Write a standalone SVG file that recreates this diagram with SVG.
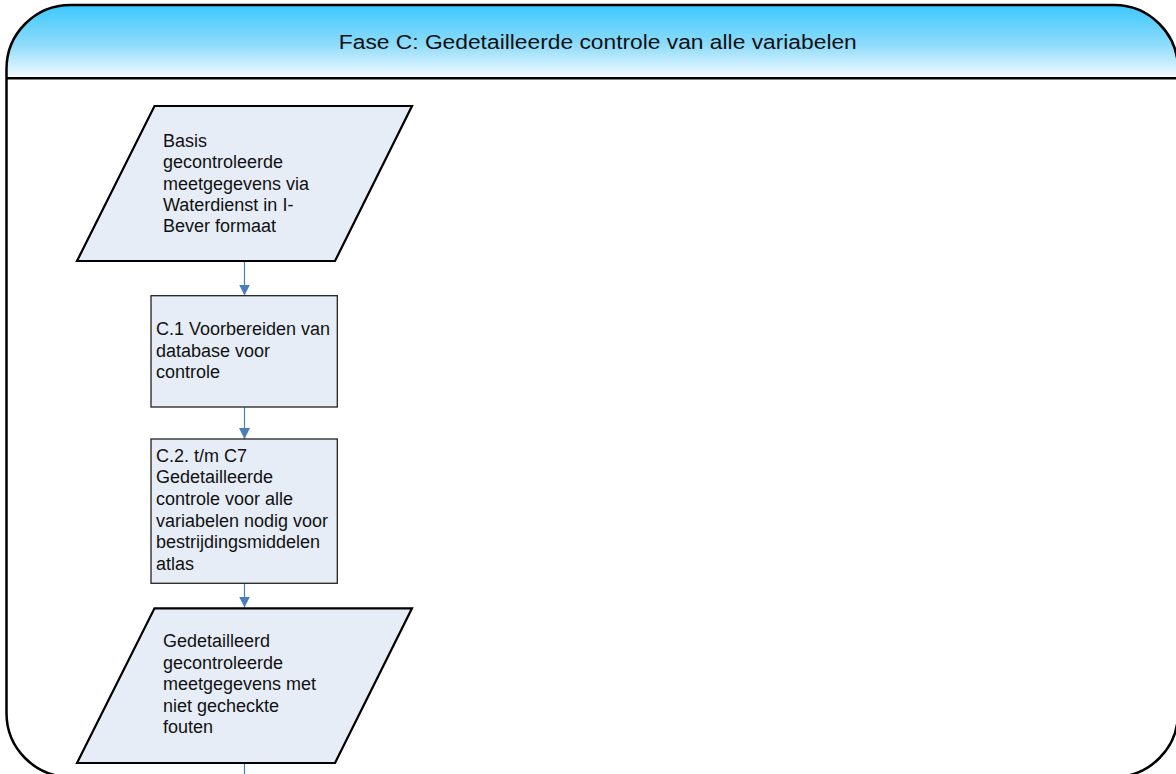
<svg xmlns="http://www.w3.org/2000/svg" width="1176" height="774" viewBox="0 0 1176 774">
  <defs>
    <linearGradient id="hdr" x1="0" y1="0" x2="0" y2="1">
      <stop offset="0" stop-color="#3cc8fd"/>
      <stop offset="0.55" stop-color="#8fdcfb"/>
      <stop offset="1" stop-color="#f6fcff"/>
    </linearGradient>
    <marker id="arr" markerUnits="userSpaceOnUse" markerWidth="12" markerHeight="12" viewBox="0 0 12 12" refX="11" refY="6" orient="auto">
      <path d="M0,0.5 L11,6 L0,11.5 Z" fill="#4a7ebb"/>
    </marker>
    <style>
      .lbl { font-family: "Liberation Sans", Arial, sans-serif; font-size: 18px; fill: #111; }
      .hdr { font-family: "Liberation Sans", Arial, sans-serif; font-size: 20px; fill: #111; }
      .para { fill: #e7edf7; stroke: #000; stroke-width: 2.2; stroke-linejoin: miter; }
      .proc { fill: #e7edf7; stroke: #222; stroke-width: 1.3; }
      .conn { stroke: #4a7ebb; stroke-width: 1.2; fill: none; }
    </style>
  </defs>

  <rect width="1176" height="774" fill="#ffffff"/>

  <g id="frame">
    <path d="M6.5,78 L6.5,69 A64,64 0 0 1 70.5,5 L1114,5 A64,64 0 0 1 1178,69 L1178,78 Z" fill="url(#hdr)"/>
    <rect x="6.5" y="5" width="1171.5" height="772" rx="64" ry="64" fill="none" stroke="#000" stroke-width="2.5"/>
    <line x1="6.5" y1="78.3" x2="1178" y2="78.3" stroke="#000" stroke-width="2.5"/>
    <text class="hdr" x="597.8" y="49.3" text-anchor="middle" textLength="518" lengthAdjust="spacingAndGlyphs">Fase C: Gedetailleerde controle van alle variabelen</text>
  </g>

  <g id="connectors">
    <line class="conn" x1="244.5" y1="262" x2="244.5" y2="295.5" marker-end="url(#arr)"/>
    <line class="conn" x1="244.5" y1="407" x2="244.5" y2="439" marker-end="url(#arr)"/>
    <line class="conn" x1="244.5" y1="583.5" x2="244.5" y2="607.5" marker-end="url(#arr)"/>
    <line class="conn" x1="244.5" y1="764" x2="244.5" y2="776"/>
  </g>

  <g id="node-basis">
    <polygon class="para" points="154.5,106 412,106 335,261 77,261"/>
    <text class="lbl">
      <tspan x="163" y="147">Basis</tspan>
      <tspan x="163" y="168.3">gecontroleerde</tspan>
      <tspan x="163" y="189.7">meetgegevens via</tspan>
      <tspan x="163" y="211">Waterdienst in I-</tspan>
      <tspan x="163" y="232.3">Bever formaat</tspan>
    </text>
  </g>

  <g id="node-c1">
    <rect class="proc" x="151" y="295.7" width="186.3" height="111.3"/>
    <text class="lbl">
      <tspan x="156" y="335">C.1 Voorbereiden van</tspan>
      <tspan x="156" y="356.5">database voor</tspan>
      <tspan x="156" y="378">controle</tspan>
    </text>
  </g>

  <g id="node-c2">
    <rect class="proc" x="151" y="439" width="186.3" height="144.3"/>
    <text class="lbl">
      <tspan x="156" y="461.7">C.2. t/m C7</tspan>
      <tspan x="156" y="483.3">Gedetailleerde</tspan>
      <tspan x="156" y="505">controle voor alle</tspan>
      <tspan x="156" y="526.6">variabelen nodig voor</tspan>
      <tspan x="156" y="548.2">bestrijdingsmiddelen</tspan>
      <tspan x="156" y="569.8">atlas</tspan>
    </text>
  </g>

  <g id="node-gedetailleerd">
    <polygon class="para" points="154.5,608.3 412,608.3 335,763 77,763"/>
    <text class="lbl">
      <tspan x="163" y="647.3">Gedetailleerd</tspan>
      <tspan x="163" y="668.8">gecontroleerde</tspan>
      <tspan x="163" y="690.3">meetgegevens met</tspan>
      <tspan x="163" y="711.8">niet gecheckte</tspan>
      <tspan x="163" y="733.3">fouten</tspan>
    </text>
  </g>
</svg>
